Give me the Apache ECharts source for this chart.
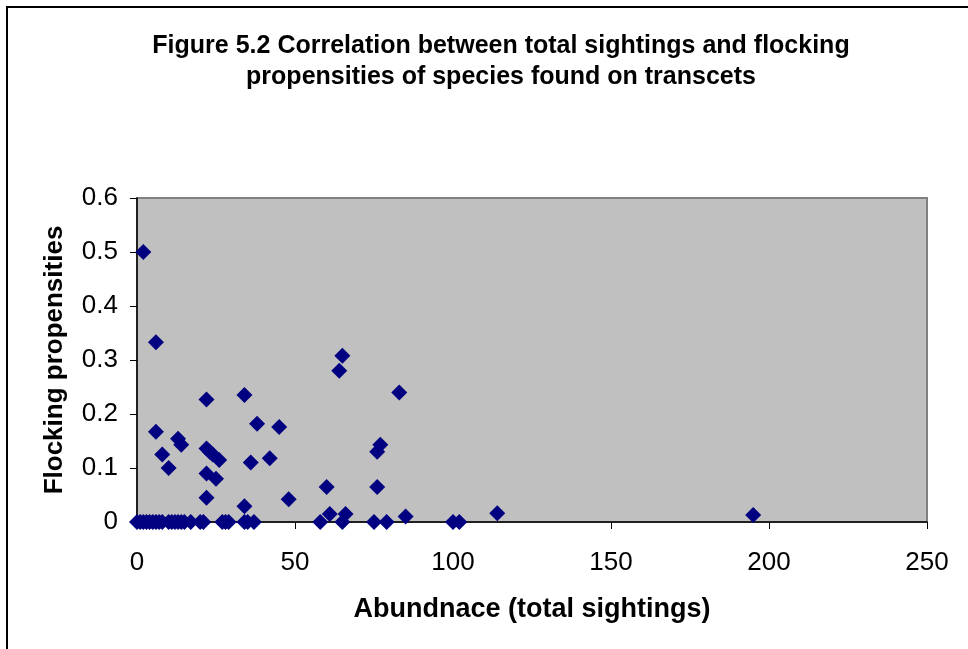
<!DOCTYPE html>
<html>
<head>
<meta charset="utf-8">
<script src="https://cdn.jsdelivr.net/npm/echarts@6/dist/echarts.min.js"></script>
<style>html,body{margin:0;padding:0;background:#fff;}#c{width:968px;height:649px;}</style>
</head>
<body>
<div id="c"></div>
<script>
// Data
const abundance = [2, 6, 6, 8, 10, 13, 14, 22, 22, 23, 24, 26, 22, 25, 22, 34, 34, 36, 38, 42, 45, 48,
  64, 65, 83, 77, 76, 60, 76, 61, 66, 85, 114, 195,
  0, 1, 2, 3, 4, 5, 6, 7, 8, 10, 11, 12, 13, 14, 15, 17, 20, 21, 27, 28, 29, 34, 35, 37, 58, 65, 75, 79, 100, 102];
const flocking = [0.5, 0.333, 0.167, 0.125, 0.1, 0.154, 0.143, 0.227, 0.136, 0.13, 0.125, 0.115, 0.09, 0.08, 0.045, 0.235, 0.029, 0.11, 0.182, 0.118, 0.176, 0.042,
  0.28, 0.308, 0.24, 0.143, 0.13, 0.065, 0.065, 0.015, 0.015, 0.01, 0.016, 0.013,
  0, 0, 0, 0, 0, 0, 0, 0, 0, 0, 0, 0, 0, 0, 0, 0, 0, 0, 0, 0, 0, 0, 0, 0, 0, 0, 0, 0, 0, 0];
const titleLines = ['Figure 5.2 Correlation between total sightings and flocking', 'propensities of species found on transcets'];
const xName = 'Abundnace (total sightings)';
const yName = 'Flocking propensities';

const points = abundance.map((a, i) => [a, flocking[i]]);
const chart = echarts.init(document.getElementById('c'));
const font = 'Liberation Sans, Arial, sans-serif';
chart.setOption({
  animation: false,
  backgroundColor: '#fff',
  title: {
    text: titleLines.join('\n'),
    left: 496, top: 26, textAlign: 'center',
    textStyle: { fontFamily: font, fontWeight: 'bold', fontSize: 25, lineHeight: 31, color: '#000' }
  },
  graphic: [{
    type: 'polyline', shape: { points: [[7, 660], [7, 7], [980, 7]] },
    style: { stroke: '#000', lineWidth: 2, fill: null }, silent: true
  }],
  grid: { left: 137, top: 198, width: 790, height: 324, show: true, backgroundColor: '#C0C0C0', borderColor: '#808080', borderWidth: 2 },
  xAxis: {
    type: 'value', min: 0, max: 250, interval: 50,
    name: xName, nameLocation: 'middle', nameGap: 74,
    nameTextStyle: { fontFamily: font, fontWeight: 'bold', fontSize: 27, color: '#000' },
    axisLine: { lineStyle: { color: '#000', width: 1.5 } },
    axisTick: { show: true, length: 7, lineStyle: { color: '#000' } },
    axisLabel: { fontFamily: font, fontSize: 26, color: '#000', margin: 28 },
    splitLine: { show: false }
  },
  yAxis: {
    type: 'value', min: 0, max: 0.6, interval: 0.1,
    name: yName, nameLocation: 'middle', nameGap: 69, nameRotate: 90,
    nameTextStyle: { fontFamily: font, fontWeight: 'bold', fontSize: 26, color: '#000' },
    axisLine: { show: true, lineStyle: { color: '#000', width: 1.5 } },
    axisTick: { show: true, length: 7, lineStyle: { color: '#000' } },
    axisLabel: { fontFamily: font, fontSize: 26, color: '#000', margin: 19,
      formatter: v => (Math.round(v * 10) / 10).toString() },
    splitLine: { show: false }
  },
  series: [{
    type: 'scatter', data: points, symbol: 'diamond', symbolSize: 16,
    itemStyle: { color: '#000080', opacity: 1 }
  }]
});
</script>
</body>
</html>
